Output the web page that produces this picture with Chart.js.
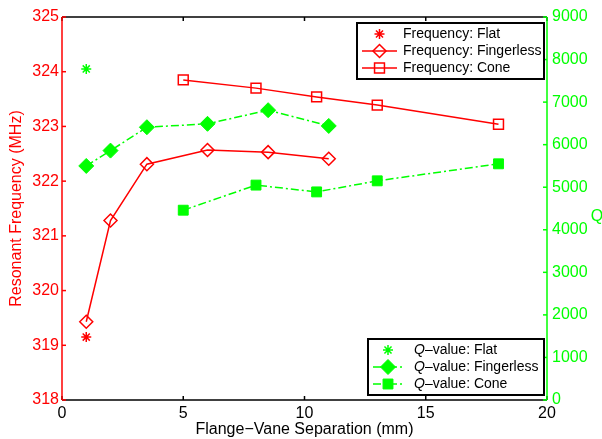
<!DOCTYPE html>
<html>
<head>
<title>Resonant Frequency and Q</title>
<script src="https://cdn.jsdelivr.net/npm/chart.js"></script>
<style>
  body { margin: 0; background: #fff; }
  #wrap { width: 602px; height: 439px; }
</style>
</head>
<body>
<div id="wrap"><canvas id="chart" width="602" height="439"></canvas></div>
<script>
// separation (mm) for each geometry
const xFlat = [1];
const xFingerless = [1, 2, 3.5, 6, 8.5, 11];
const xCone = [5, 8, 10.5, 13, 18];

// resonant frequency (MHz), left axis
const freqFlat = [319.15];
const freqFingerless = [319.43, 321.28, 322.31, 322.57, 322.53, 322.41];
const freqCone = [323.85, 323.70, 323.54, 323.39, 323.04];

// Q-value, right axis
const qFlat = [7780];
const qFingerless = [5500, 5860, 6410, 6490, 6810, 6440];
const qCone = [4460, 5050, 4890, 5150, 5550];

const xTicks = [0, 5, 10, 15, 20];
const freqTicks = [318, 319, 320, 321, 322, 323, 324, 325];
const qTicks = [0, 1000, 2000, 3000, 4000, 5000, 6000, 7000, 8000, 9000];

const RED = '#ff0000';
const GREEN = '#00ff00';
const FONT = 'Liberation Sans, Arial, Helvetica, sans-serif';
const DASHDOT = [8, 3, 2, 3];

function pts(xs, ys) {
    return xs.map((x, i) => ({ x: x, y: ys[i] }));
}

const datasets = [
    { label: 'Frequency: Flat', data: pts(xFlat, freqFlat), yAxisID: 'y',
      borderColor: RED, backgroundColor: RED, showLine: false,
      pointStyle: 'star', pointRadius: 5, pointBorderWidth: 1.5 },
    { label: 'Frequency: Fingerless', data: pts(xFingerless, freqFingerless), yAxisID: 'y',
      borderColor: RED, backgroundColor: 'rgba(0,0,0,0)', borderWidth: 1.5,
      pointStyle: 'rectRot', pointRadius: 6.5, pointBorderWidth: 1.5 },
    { label: 'Frequency: Cone', data: pts(xCone, freqCone), yAxisID: 'y',
      borderColor: RED, backgroundColor: 'rgba(0,0,0,0)', borderWidth: 1.5,
      pointStyle: 'rect', pointRadius: 7, pointBorderWidth: 1.5 },
    { label: 'Q-value: Flat', data: pts(xFlat, qFlat), yAxisID: 'y2',
      borderColor: GREEN, backgroundColor: GREEN, showLine: false,
      pointStyle: 'star', pointRadius: 5, pointBorderWidth: 1.5 },
    { label: 'Q-value: Fingerless', data: pts(xFingerless, qFingerless), yAxisID: 'y2',
      borderColor: GREEN, backgroundColor: GREEN, borderWidth: 1.5, borderDash: DASHDOT,
      pointStyle: 'rectRot', pointRadius: 7.5, pointBorderWidth: 1 },
    { label: 'Q-value: Cone', data: pts(xCone, qCone), yAxisID: 'y2',
      borderColor: GREEN, backgroundColor: GREEN, borderWidth: 1.5, borderDash: DASHDOT,
      pointStyle: 'rect', pointRadius: 7, pointBorderWidth: 1 }
];
datasets.forEach(d => { d.tension = 0; d.pointHoverRadius = d.pointRadius; });

function line(ctx, x1, y1, x2, y2, color) {
    ctx.strokeStyle = color;
    ctx.beginPath();
    ctx.moveTo(x1, y1);
    ctx.lineTo(x2, y2);
    ctx.stroke();
}

function drawMarker(ctx, ds, x, y) {
    ctx.save();
    ctx.setLineDash([]);
    ctx.strokeStyle = ds.borderColor;
    ctx.fillStyle = ds.backgroundColor;
    ctx.lineWidth = ds.pointBorderWidth;
    Chart.helpers.drawPoint(ctx, { pointStyle: ds.pointStyle, radius: ds.pointRadius,
        borderWidth: ds.pointBorderWidth, rotation: 0 }, x, y);
    ctx.restore();
}

function drawLegend(ctx, items, box, italicQ) {
    ctx.save();
    ctx.fillStyle = '#fff';
    ctx.fillRect(box.x, box.y, box.w, box.h);
    ctx.lineWidth = 2;
    ctx.strokeStyle = '#000';
    ctx.strokeRect(box.x, box.y, box.w, box.h);
    ctx.font = '14px ' + FONT;
    ctx.textBaseline = 'middle';
    items.forEach((ds, i) => {
        const y = box.y + 11 + i * 17;
        if (ds.showLine !== false) {
            ctx.lineWidth = 1.5;
            ctx.setLineDash(ds.borderDash || []);
            line(ctx, box.x + 5, y, box.x + box.sample, y, ds.borderColor);
            ctx.setLineDash([]);
        }
        drawMarker(ctx, ds, box.x + 5 + (box.sample - 5) / 2, y);
        ctx.fillStyle = '#000';
        let tx = box.x + box.textX;
        let text = ds.label;
        if (italicQ) {
            ctx.font = 'italic 14px ' + FONT;
            ctx.fillText('Q', tx, y);
            tx += ctx.measureText('Q').width;
            ctx.font = '14px ' + FONT;
            text = text.replace('Q-', '\u2013');
        }
        ctx.fillText(text, tx, y);
    });
    ctx.restore();
}

const framePlugin = {
    id: 'frame',
    afterDraw(chart) {
        const ctx = chart.ctx;
        const a = chart.chartArea;
        const sx = chart.scales.x, sy = chart.scales.y, sq = chart.scales.y2;
        ctx.save();
        ctx.lineWidth = 1.5;
        line(ctx, a.left, a.top, a.right, a.top, '#000');
        line(ctx, a.left, a.bottom, a.right, a.bottom, '#000');
        xTicks.forEach(v => {
            const px = sx.getPixelForValue(v);
            line(ctx, px, a.bottom, px, a.bottom - 4, '#000');
            line(ctx, px, a.top, px, a.top + 4, '#000');
        });
        line(ctx, a.left, a.top, a.left, a.bottom, RED);
        freqTicks.forEach(v => {
            const py = sy.getPixelForValue(v);
            line(ctx, a.left, py, a.left + 4, py, RED);
        });
        line(ctx, a.right, a.top, a.right, a.bottom, GREEN);
        qTicks.forEach(v => {
            const py = sq.getPixelForValue(v);
            line(ctx, a.right, py, a.right - 4, py, GREEN);
        });
        // right axis title
        ctx.fillStyle = GREEN;
        ctx.font = '16px ' + FONT;
        ctx.textAlign = 'center';
        ctx.textBaseline = 'middle';
        ctx.fillText('Q', a.right + 50, sq.getPixelForValue(4300));
        ctx.restore();

        drawLegend(ctx, datasets.slice(0, 3),
            { x: a.right - 190, y: a.top + 6, w: 187, h: 56, sample: 40, textX: 46 }, false);
        drawLegend(ctx, datasets.slice(3, 6),
            { x: a.right - 179, y: a.bottom - 61, w: 176, h: 56, sample: 35, textX: 46 }, true);
    }
};

const tickFont = { size: 16, family: FONT };

new Chart(document.getElementById('chart').getContext('2d'), {
    type: 'line',
    data: { datasets: datasets },
    plugins: [framePlugin],
    options: {
        responsive: false,
        animation: false,
        devicePixelRatio: 1,
        layout: { padding: { top: 17, left: 0, right: 0, bottom: 0 } },
        plugins: { legend: { display: false }, tooltip: { enabled: false } },
        scales: {
            x: {
                type: 'linear', min: 0, max: 20,
                afterBuildTicks: s => { s.ticks = xTicks.map(v => ({ value: v })); },
                grid: { display: false, drawTicks: false },
                border: { display: false },
                ticks: { color: '#000', font: tickFont, padding: 4, maxRotation: 0,
                         callback: v => String(v) },
                title: { display: true, text: 'Flange\u2212Vane Separation (mm)', color: '#000',
                         font: tickFont, padding: { top: 0, bottom: 0 } },
                afterFit: s => { s.height = 39; }
            },
            y: {
                type: 'linear', position: 'left', min: 318, max: 325,
                afterBuildTicks: s => { s.ticks = freqTicks.map(v => ({ value: v })); },
                grid: { display: false, drawTicks: false },
                border: { display: false },
                ticks: { color: RED, font: tickFont, padding: 3, callback: v => String(v) },
                title: { display: true, text: 'Resonant Frequency (MHz)', color: RED,
                         font: tickFont, padding: { top: 7, bottom: 0 } },
                afterFit: s => { s.width = 62; }
            },
            y2: {
                type: 'linear', position: 'right', min: 0, max: 9000,
                afterBuildTicks: s => { s.ticks = qTicks.map(v => ({ value: v })); },
                grid: { display: false, drawTicks: false },
                border: { display: false },
                ticks: { color: GREEN, font: tickFont, padding: 5, callback: v => String(v) },
                afterFit: s => { s.width = 55; }
            }
        }
    }
});
</script>
</body>
</html>
